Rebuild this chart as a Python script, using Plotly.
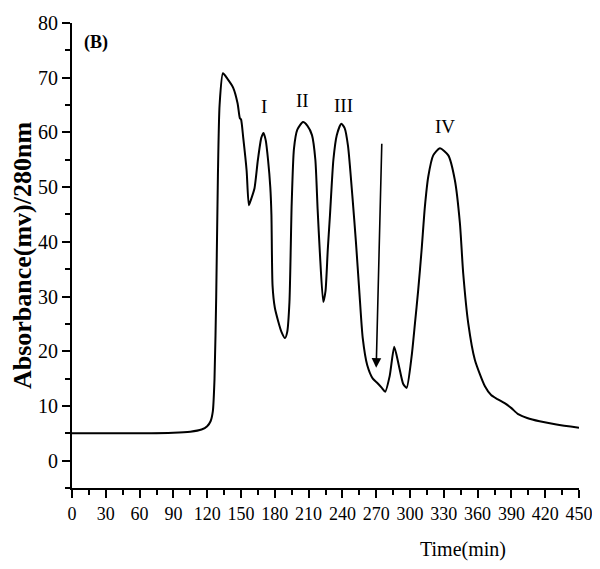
import plotly.graph_objects as go

# elution profile
time_min = [0, 60, 90, 105, 115, 120, 123, 125, 126.5, 128, 129.5, 131, 134, 138,
            143, 147, 149, 150, 152, 155, 157, 159, 162, 165, 168, 170, 172, 174,
            176, 177, 178, 180, 183, 186, 189, 191, 193, 195, 197, 200,
            205, 209, 213, 216, 218, 220, 223, 225, 227, 229, 232, 235, 239, 242,
            245, 249, 252, 255, 258, 262, 267, 271, 275, 278, 282, 286, 290, 294,
            297, 301.4, 304.4, 307.3, 310.3, 313.2, 316.2, 320.6, 326.5, 334, 339.8,
            344.3, 347.2, 351.7, 357.6, 366.5, 372, 378, 384, 390, 396,
            404, 415, 430, 450]
absorbance = [5, 5, 5.1, 5.3, 5.7, 6.3, 7.2, 9, 15, 30, 52, 65, 70.8, 69.8,
              68.2, 65.3, 62.6, 62.4, 59, 53, 46.7, 47.8, 49.8, 55, 59, 59.9, 58.5, 55,
              50, 45, 32, 28, 25.5, 23.5, 22.4, 23.5, 29, 47, 57, 60.5,
              61.9, 61.2, 59.5, 55, 46, 38, 29, 31, 38.5, 45, 55, 59.5, 61.6, 60.8,
              57.5, 48, 40, 31, 22.5, 17.5, 15, 14.2, 13.3, 12.6, 15.5, 20.8, 17.5, 14,
              13.3, 19.0, 25.1, 31.2, 38.5, 46.4, 51.9, 55.8, 57.1, 55.8, 51.3,
              43.4, 34.3, 25.1, 18.4, 13.6, 12.0, 11.2, 10.5, 9.6, 8.5,
              7.8, 7.2, 6.6, 6.0]

peak_labels = ["I", "II", "III", "IV"]
peak_x = [170, 205, 241, 331]
peak_y = [64.8, 65.9, 65.0, 61.0]

x_ticks = list(range(0, 451, 30))
y_ticks = list(range(0, 81, 10))

serif = "Liberation Serif, Times New Roman, serif"

fig = go.Figure()
fig.add_trace(go.Scatter(x=time_min, y=absorbance, mode="lines",
                         line=dict(color="black", width=2, shape="spline", smoothing=0.6),
                         showlegend=False))

for lab, px, py in zip(peak_labels, peak_x, peak_y):
    fig.add_annotation(x=px, y=py, text=lab, showarrow=False,
                       font=dict(family=serif, size=19, color="black"))

# arrow marking the buffer change
fig.add_annotation(x=270, y=17, ax=275, ay=58.2, xref="x", yref="y",
                   axref="x", ayref="y", text="", showarrow=True,
                   arrowhead=2, arrowsize=1.2, arrowwidth=1.6, arrowcolor="black")

fig.add_annotation(x=0.02, y=0.985, xref="paper", yref="paper", text="<b>(B)</b>",
                   showarrow=False, xanchor="left", yanchor="top",
                   font=dict(family=serif, size=18, color="black"))

fig.add_annotation(x=0.771, y=-0.133, xref="paper", yref="paper", text="Time(min)",
                   showarrow=False, xanchor="center", yanchor="middle",
                   font=dict(family=serif, size=20, color="black"))

fig.update_xaxes(range=[0, 450], tickvals=x_ticks, ticks="outside", ticklen=8,
                 tickwidth=1.5, tickcolor="black", showline=True, linecolor="black",
                 linewidth=2, showgrid=False, zeroline=False, automargin=False,
                 tickfont=dict(family=serif, size=18, color="black"),
                 minor=dict(dtick=15, ticks="outside", ticklen=5, tickcolor="black", tickwidth=1.5))
fig.update_yaxes(range=[-5, 80], tickvals=y_ticks, ticks="outside", ticklen=8,
                 tickwidth=1.5, tickcolor="black", showline=True, linecolor="black",
                 linewidth=2, showgrid=False, zeroline=False, automargin=False,
                 tickfont=dict(family=serif, size=20, color="black"),
                 minor=dict(dtick=5, ticks="outside", ticklen=5, tickcolor="black", tickwidth=1.5),
                 title=dict(text="<b>Absorbance(mv)/280nm</b>", standoff=6,
                            font=dict(family=serif, size=26, color="black")))

# page body adds ~8px offset, so margins are shifted to keep the plot box in place
fig.update_layout(width=600, height=569, plot_bgcolor="white", paper_bgcolor="white",
                  margin=dict(l=64, r=29, t=15, b=89))

fig.write_html("out.html")
